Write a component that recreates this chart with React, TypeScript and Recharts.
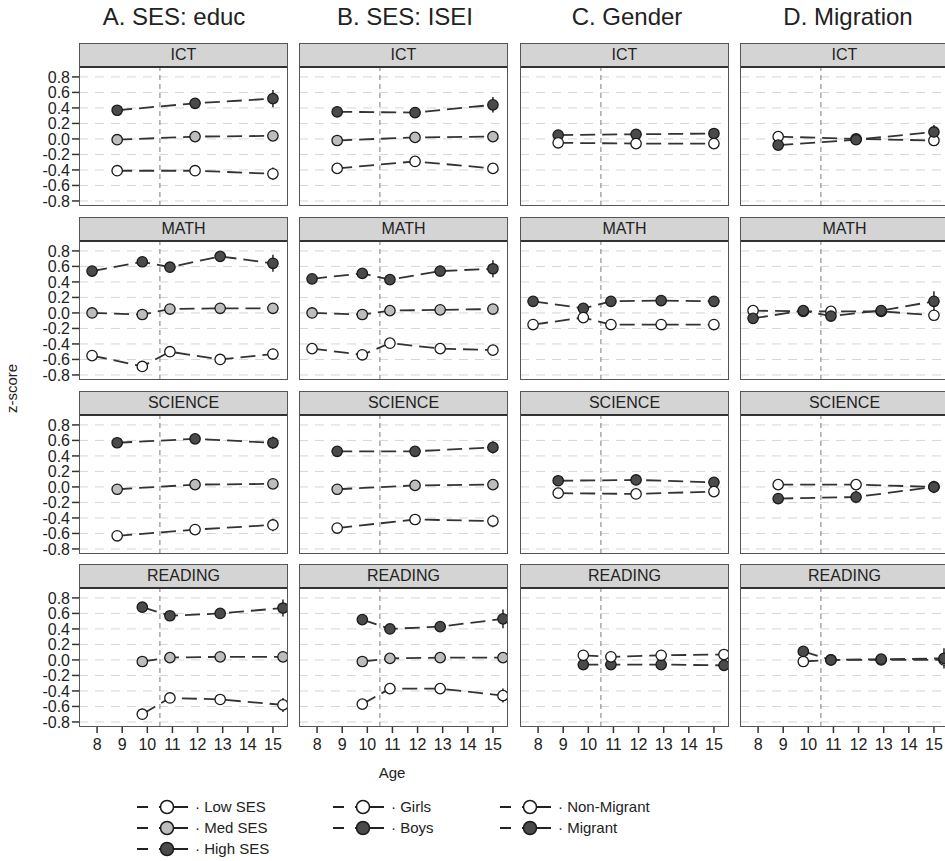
import React from 'react';
import { LineChart, Line, XAxis, YAxis, CartesianGrid, ReferenceLine, ErrorBar } from 'recharts';

// measurement ages per domain (waves)
const domains = ['ICT', 'MATH', 'SCIENCE', 'READING'];
const ageIct = [8.8, 11.9, 15.0];
const ageMath = [7.8, 9.8, 10.9, 12.9, 15.0];
const ageScience = [8.8, 11.9, 15.0];
const ageReading = [9.8, 10.9, 12.9, 15.4];
const domainAges = [ageIct, ageMath, ageScience, ageReading];

const xTicks = [8, 9, 10, 11, 12, 13, 14, 15];
const yTicks = [-0.8, -0.6, -0.4, -0.2, 0, 0.2, 0.4, 0.6, 0.8];

// A. SES: educ  (rows = ICT, MATH, SCIENCE, READING)
const educLow = [[-0.41, -0.41, -0.45], [-0.55, -0.69, -0.5, -0.6, -0.53], [-0.63, -0.55, -0.49], [-0.7, -0.49, -0.51, -0.58]];
const educMed = [[-0.01, 0.03, 0.04], [0.0, -0.02, 0.05, 0.06, 0.06], [-0.03, 0.03, 0.04], [-0.02, 0.03, 0.04, 0.04]];
const educHigh = [[0.37, 0.46, 0.52], [0.54, 0.66, 0.59, 0.73, 0.64], [0.57, 0.62, 0.57], [0.68, 0.57, 0.6, 0.67]];
const educLowErr = [[0.03, 0.03, 0.08], [0.03, 0.03, 0.03, 0.03, 0.07], [0.03, 0.03, 0.08], [0.03, 0.03, 0.04, 0.09]];
const educMedErr = [[0.02, 0.02, 0.04], [0.02, 0.02, 0.02, 0.02, 0.04], [0.02, 0.02, 0.04], [0.02, 0.02, 0.02, 0.05]];
const educHighErr = [[0.04, 0.04, 0.11], [0.04, 0.04, 0.04, 0.04, 0.11], [0.04, 0.04, 0.08], [0.04, 0.04, 0.06, 0.11]];

// B. SES: ISEI
const iseiLow = [[-0.38, -0.29, -0.38], [-0.46, -0.54, -0.39, -0.46, -0.48], [-0.53, -0.42, -0.44], [-0.57, -0.37, -0.37, -0.46]];
const iseiMed = [[-0.02, 0.02, 0.03], [0.0, -0.02, 0.03, 0.04, 0.05], [-0.03, 0.02, 0.03], [-0.02, 0.02, 0.03, 0.03]];
const iseiHigh = [[0.35, 0.34, 0.44], [0.44, 0.51, 0.43, 0.54, 0.57], [0.46, 0.46, 0.51], [0.52, 0.4, 0.43, 0.53]];
const iseiLowErr = [[0.03, 0.03, 0.07], [0.03, 0.03, 0.03, 0.03, 0.07], [0.03, 0.03, 0.08], [0.03, 0.03, 0.04, 0.09]];
const iseiMedErr = [[0.02, 0.02, 0.04], [0.02, 0.02, 0.02, 0.02, 0.04], [0.02, 0.02, 0.04], [0.02, 0.02, 0.02, 0.05]];
const iseiHighErr = [[0.04, 0.04, 0.1], [0.04, 0.04, 0.04, 0.04, 0.11], [0.04, 0.04, 0.08], [0.04, 0.04, 0.06, 0.12]];

// C. Gender
const girls = [[-0.05, -0.06, -0.06], [-0.15, -0.06, -0.15, -0.15, -0.15], [-0.08, -0.09, -0.06], [0.06, 0.04, 0.06, 0.07]];
const boys = [[0.05, 0.06, 0.07], [0.15, 0.06, 0.15, 0.16, 0.15], [0.08, 0.09, 0.06], [-0.06, -0.06, -0.06, -0.07]];
const girlsErr = [[0.02, 0.02, 0.04], [0.02, 0.02, 0.02, 0.02, 0.04], [0.02, 0.02, 0.04], [0.02, 0.02, 0.02, 0.05]];
const boysErr = [[0.02, 0.02, 0.04], [0.02, 0.02, 0.02, 0.02, 0.04], [0.02, 0.02, 0.04], [0.02, 0.02, 0.02, 0.05]];

// D. Migration
const nonMigrant = [[0.03, 0.0, -0.02], [0.03, 0.02, 0.02, 0.02, -0.03], [0.03, 0.03, 0.0], [-0.02, 0.0, 0.0, 0.0]];
const migrant = [[-0.08, -0.01, 0.09], [-0.07, 0.03, -0.04, 0.03, 0.15], [-0.15, -0.13, 0.0], [0.11, 0.0, 0.01, 0.02]];
const nonMigrantErr = [[0.02, 0.02, 0.03], [0.02, 0.02, 0.02, 0.02, 0.03], [0.02, 0.02, 0.03], [0.02, 0.02, 0.02, 0.04]];
const migrantErr = [[0.03, 0.06, 0.09], [0.03, 0.03, 0.03, 0.05, 0.13], [0.03, 0.08, 0.08], [0.03, 0.03, 0.06, 0.13]];

const WHITE = '#ffffff';
const GREY = '#bdbdbd';
const DARK = '#4a4a4a';

const columns = [
  {
    title: 'A. SES: educ',
    titleX: 174,
    series: [
      { name: 'High SES', fill: DARK, values: educHigh, err: educHighErr },
      { name: 'Med SES', fill: GREY, values: educMed, err: educMedErr },
      { name: 'Low SES', fill: WHITE, values: educLow, err: educLowErr },
    ],
  },
  {
    title: 'B. SES: ISEI',
    titleX: 405,
    series: [
      { name: 'High SES', fill: DARK, values: iseiHigh, err: iseiHighErr },
      { name: 'Med SES', fill: GREY, values: iseiMed, err: iseiMedErr },
      { name: 'Low SES', fill: WHITE, values: iseiLow, err: iseiLowErr },
    ],
  },
  {
    title: 'C. Gender',
    titleX: 627,
    series: [
      { name: 'Boys', fill: DARK, values: boys, err: boysErr },
      { name: 'Girls', fill: WHITE, values: girls, err: girlsErr },
    ],
  },
  {
    title: 'D. Migration',
    titleX: 848,
    series: [
      { name: 'Non-Migrant', fill: WHITE, values: nonMigrant, err: nonMigrantErr },
      { name: 'Migrant', fill: DARK, values: migrant, err: migrantErr },
    ],
  },
];

const legendGroups = [
  { x: 137, items: [{ label: 'Low SES', fill: WHITE }, { label: 'Med SES', fill: GREY }, { label: 'High SES', fill: DARK }] },
  { x: 333, items: [{ label: 'Girls', fill: WHITE }, { label: 'Boys', fill: DARK }] },
  { x: 500, items: [{ label: 'Non-Migrant', fill: WHITE }, { label: 'Migrant', fill: DARK }] },
];

const FONT = '"Liberation Sans", Arial, Helvetica, sans-serif';
const colLefts = [79, 299, 520, 740];
const rowTops = [43, 217, 391, 564];
const PW = 209;
const PH = 138;
const STRIP = 25;
const AXW = 50;
const AXH = 34;
const PAD = 10; // room below plot so the lowest y label isn't clipped

const Panel = ({ col, row }: { col: number; row: number }) => {
  const cfg = columns[col];
  const ages = domainAges[row];
  const data = ages.map((age, i) => {
    const d: any = { age };
    cfg.series.forEach((s, k) => {
      d['v' + k] = s.values[row][i];
      d['e' + k] = s.err[row][i];
    });
    return d;
  });
  const showY = col === 0;
  const showX = row === 3;
  const left = colLefts[col];
  const top = rowTops[row];

  return (
    <>
      <div
        style={{
          position: 'absolute', left, top, width: PW, height: STRIP, boxSizing: 'border-box',
          background: '#d4d4d4', border: '1.5px solid #555', borderBottom: '2px solid #333',
          textAlign: 'center', fontSize: 16, lineHeight: '22px', color: '#222',
        }}
      >
        {domains[row]}
      </div>
      <div style={{ position: 'absolute', left: left - (showY ? AXW : 0), top: top + STRIP }}>
        <LineChart
          width={PW + (showY ? AXW : 0)}
          height={PH + (showX ? AXH : PAD)}
          data={data}
          margin={{ top: 0, right: 0, bottom: showX ? 0 : PAD, left: 0 }}
        >
          <CartesianGrid vertical={false} horizontalValues={yTicks} stroke="#d6d6d6" strokeDasharray="9 7" />
          <XAxis
            type="number" dataKey="age" domain={[7.28, 15.6]} ticks={xTicks} allowDataOverflow
            hide={!showX} height={AXH} axisLine={false} tickSize={6} tickMargin={6}
            tickLine={{ stroke: '#333', strokeWidth: 1.5 }}
            tick={{ fontSize: 16, fill: '#222', fontFamily: FONT }} interval={0}
          />
          <YAxis
            type="number" domain={[-0.865, 0.915]} ticks={yTicks} allowDataOverflow
            hide={!showY} width={AXW} axisLine={false} tickSize={7} tickMargin={2}
            tickLine={{ stroke: '#333', strokeWidth: 1.5 }}
            tickFormatter={(v: number) => v.toFixed(1)}
            tick={{ fontSize: 16, fill: '#222', fontFamily: FONT }} interval={0}
          />
          <ReferenceLine x={10.5} stroke="#9a9a9a" strokeWidth={1.3} strokeDasharray="5 4" />
          {cfg.series.map((s, k) => (
            <Line
              key={s.name}
              type="linear"
              dataKey={'v' + k}
              stroke="#333"
              strokeWidth={1.8}
              strokeDasharray="15 7"
              dot={{ r: 5.2, fill: s.fill, stroke: '#1a1a1a', strokeWidth: 1.3, strokeDasharray: '' }}
              activeDot={false}
              isAnimationActive={false}
            >
              <ErrorBar dataKey={'e' + k} direction="y" width={0} stroke="#333" strokeWidth={1.6} />
            </Line>
          ))}
        </LineChart>
      </div>
      <div
        style={{
          position: 'absolute', left, top: top + STRIP - 1, width: PW, height: PH + 1,
          boxSizing: 'border-box', border: '1.5px solid #555', borderTop: 'none', pointerEvents: 'none',
        }}
      />
    </>
  );
};

const Legend = () => (
  <svg width={945} height={70} style={{ position: 'absolute', left: 0, top: 792 }}>
    {legendGroups.map((g) =>
      g.items.map((it, i) => {
        const y = 15 + i * 21;
        return (
          <g key={g.x + it.label}>
            <line x1={g.x} x2={g.x + 11} y1={y} y2={y} stroke="#222" strokeWidth={2} />
            <line x1={g.x + 22} x2={g.x + 51} y1={y} y2={y} stroke="#222" strokeWidth={2} />
            <circle cx={g.x + 30} cy={y} r={6.5} fill={it.fill} stroke="#1a1a1a" strokeWidth={1.5} />
            <text x={g.x + 58} y={y + 5} fontSize={15} fill="#222" fontFamily={FONT}>
              {'· ' + it.label}
            </text>
          </g>
        );
      })
    )}
  </svg>
);

const App = () => (
  <div
    style={{
      position: 'absolute', left: 0, top: 0, width: 945, height: 861, overflow: 'hidden',
      background: '#fff', fontFamily: FONT, color: '#222',
    }}
  >
    {columns.map((c) => (
      <div
        key={c.title}
        style={{ position: 'absolute', left: c.titleX - 100, top: 3, width: 200, textAlign: 'center', fontSize: 24 }}
      >
        {c.title}
      </div>
    ))}
    {columns.map((_, col) => domains.map((__, row) => <Panel key={col + '-' + row} col={col} row={row} />))}
    <div
      style={{
        position: 'absolute', left: -29, top: 380, width: 80, textAlign: 'center', fontSize: 15,
        transform: 'rotate(-90deg)',
      }}
    >
      z-score
    </div>
    <div style={{ position: 'absolute', left: 352, top: 764, width: 80, textAlign: 'center', fontSize: 15 }}>Age</div>
    <Legend />
  </div>
);

export default App;
